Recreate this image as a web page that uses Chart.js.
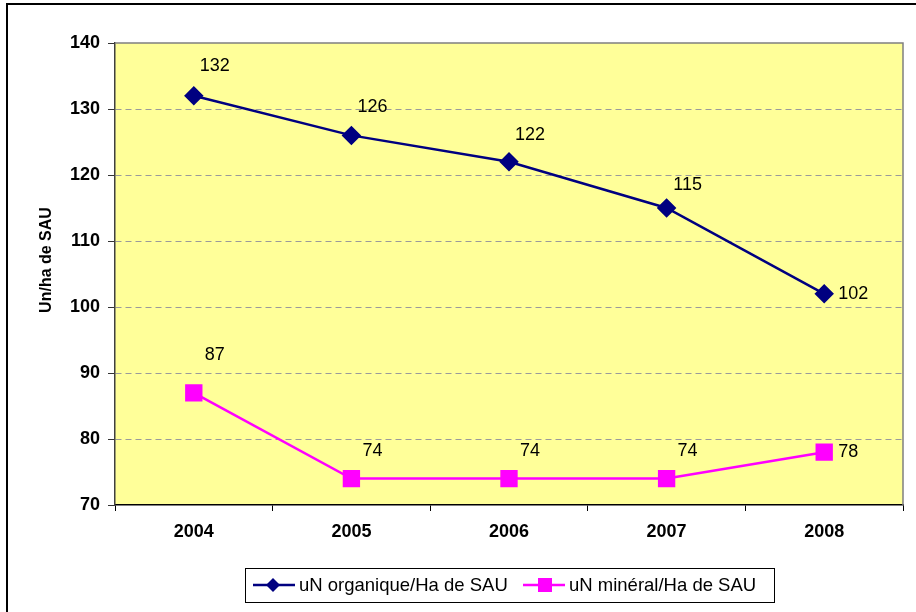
<!DOCTYPE html>
<html lang="fr">
<head>
  <meta charset="UTF-8" />
  <title>uN organique / minéral par Ha de SAU</title>
  <script src="https://cdn.jsdelivr.net/npm/chart.js"></script>
  <style>
    html, body { margin: 0; padding: 0; background: #fff; }
    #wrap { width: 916px; height: 612px; }
  </style>
</head>
<body>
<div id="wrap">
  <canvas id="azoteChart" width="916" height="612"></canvas>
</div>

<script>
const years = ['2004', '2005', '2006', '2007', '2008'];
const organique = [132, 126, 122, 115, 102];
const mineral = [87, 74, 74, 74, 78];
const seriesNames = ['uN organique/Ha de SAU', 'uN minéral/Ha de SAU'];
const yTicks = [70, 80, 90, 100, 110, 120, 130, 140];
const yTitle = 'Un/ha de SAU';

const FONT = '"Liberation Sans", Arial, sans-serif';

// frame around the whole chart + yellow plot area + axis title
const framePlugin = {
  id: 'frame',
  beforeDraw(chart) {
    const c = chart.ctx;
    const a = chart.chartArea;
    c.save();
    c.strokeStyle = '#000';
    c.lineWidth = 2;
    c.strokeRect(7, 4, 930, 640);
    c.fillStyle = '#FFFF99';
    c.fillRect(a.left, a.top, a.right - a.left, a.bottom - a.top);
    // y title, a bit above the middle like the original
    c.translate(47, 260);
    c.rotate(-Math.PI / 2);
    c.font = 'bold 16px ' + FONT;
    c.fillStyle = '#000';
    c.textAlign = 'center';
    c.textBaseline = 'middle';
    c.fillText(yTitle, 0, 0);
    c.restore();
  },
  afterDatasetsDraw(chart) {
    const c = chart.ctx;
    const a = chart.chartArea;
    c.save();
    c.lineWidth = 1.5;
    c.strokeStyle = '#808080';
    c.beginPath();
    c.moveTo(a.left, a.top);
    c.lineTo(a.right, a.top);
    c.lineTo(a.right, a.bottom);
    c.stroke();
    c.restore();
  }
};

// value labels next to each point
const orgDy = [-30, -28, -27, -23];
const minDy = [-38, -28, -28, -28];
const labelPlugin = {
  id: 'valueLabels',
  afterDatasetsDraw(chart) {
    const c = chart.ctx;
    c.save();
    c.font = '18px ' + FONT;
    c.fillStyle = '#000';
    c.textBaseline = 'middle';
    chart.data.datasets.forEach((ds, di) => {
      const meta = chart.getDatasetMeta(di);
      meta.data.forEach((pt, i) => {
        const last = i === ds.data.length - 1;
        if (last) {
          c.textAlign = 'left';
          c.fillText(String(ds.data[i]), pt.x + 14, pt.y);
        } else {
          c.textAlign = 'center';
          const dy = di === 0 ? orgDy[i] : minDy[i];
          c.fillText(String(ds.data[i]), pt.x + 21, pt.y + dy);
        }
      });
    });
    c.restore();
  }
};

// legend box at the bottom
const legendPlugin = {
  id: 'boxLegend',
  afterDraw(chart) {
    const c = chart.ctx;
    c.save();
    c.fillStyle = '#fff';
    c.fillRect(245, 568, 529, 34);
    c.strokeStyle = '#000';
    c.lineWidth = 1;
    c.strokeRect(245.5, 568.5, 529, 34);
    c.font = '18.5px ' + FONT;
    c.textBaseline = 'middle';
    c.textAlign = 'left';
    const y = 585;
    // organique
    c.strokeStyle = '#000080';
    c.lineWidth = 2.5;
    c.beginPath(); c.moveTo(253, y); c.lineTo(295, y); c.stroke();
    c.fillStyle = '#000080';
    c.beginPath();
    c.moveTo(273, y - 7); c.lineTo(280, y); c.lineTo(273, y + 7); c.lineTo(266, y);
    c.closePath(); c.fill();
    c.fillStyle = '#000';
    c.fillText(seriesNames[0], 299, y + 1);
    // minéral
    c.strokeStyle = '#FF00FF';
    c.lineWidth = 2.5;
    c.beginPath(); c.moveTo(523, y); c.lineTo(565, y); c.stroke();
    c.fillStyle = '#FF00FF';
    c.fillRect(538, y - 7, 14, 14);
    c.fillStyle = '#000';
    c.fillText(seriesNames[1], 569, y + 1);
    c.restore();
  }
};

new Chart(document.getElementById('azoteChart').getContext('2d'), {
  type: 'line',
  data: {
    labels: years,
    datasets: [{
      label: seriesNames[0],
      data: organique,
      borderColor: '#000080',
      backgroundColor: '#000080',
      borderWidth: 2.5,
      pointStyle: 'rectRot',
      pointRadius: 8,
      pointHoverRadius: 8,
      tension: 0
    }, {
      label: seriesNames[1],
      data: mineral,
      borderColor: '#FF00FF',
      backgroundColor: '#FF00FF',
      borderWidth: 2.5,
      pointStyle: 'rect',
      pointRadius: 10.5,
      pointHoverRadius: 10.5,
      tension: 0
    }]
  },
  options: {
    responsive: false,
    animation: false,
    layout: { padding: { left: 0, top: 43, right: 10, bottom: 0 } },
    plugins: {
      legend: { display: false },
      tooltip: { enabled: false }
    },
    scales: {
      x: {
        offset: true,
        afterFit: s => { s.height = 107; },
        grid: {
          offset: true,
          drawOnChartArea: false,
          color: '#000',
          tickLength: 6
        },
        border: { color: '#000', width: 1.5 },
        ticks: {
          color: '#000',
          padding: 10,
          font: { family: FONT, size: 18, weight: 'bold' }
        }
      },
      y: {
        min: 70,
        max: 140,
        afterFit: s => { s.width = 115; },
        afterBuildTicks: s => { s.ticks = yTicks.map(v => ({ value: v })); },
        grid: {
          color: ctx => (ctx.tick && (ctx.tick.value === 70 || ctx.tick.value === 140)) ? 'rgba(0,0,0,0)' : '#9a9a9a',
          tickColor: '#333',
          tickLength: 7,
          tickBorderDash: []
        },
        border: { color: '#404040', width: 1.5, dash: [6, 4] },
        ticks: {
          color: '#000',
          padding: 8,
          font: { family: FONT, size: 18, weight: 'bold' }
        }
      }
    }
  },
  plugins: [framePlugin, labelPlugin, legendPlugin]
});
</script>
</body>
</html>
